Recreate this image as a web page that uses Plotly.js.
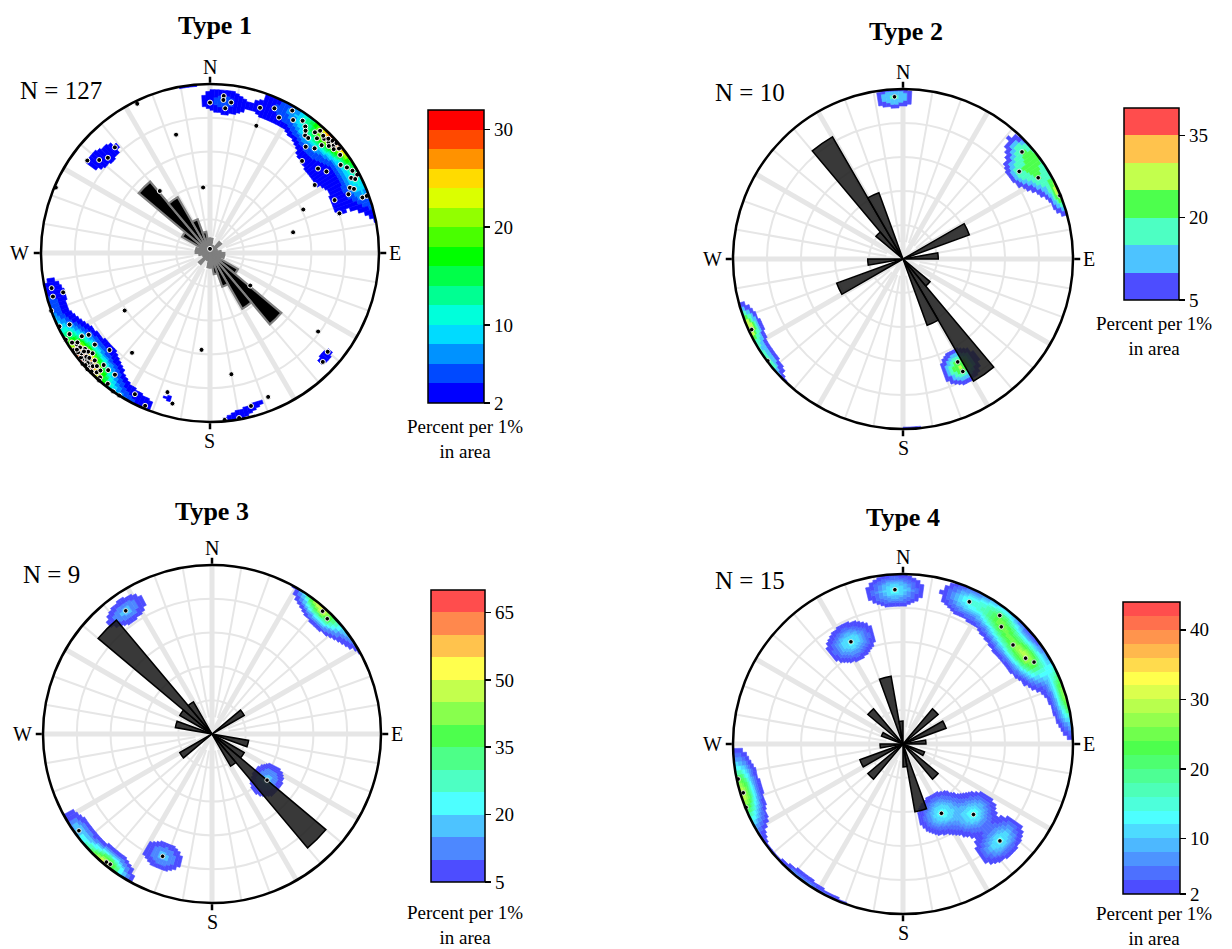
<!DOCTYPE html>
<html><head><meta charset="utf-8">
<script src="https://cdn.plot.ly/plotly-3.0.1.min.js"></script>
<style>body{margin:0;background:#fff}#chart{width:1232px;height:949px}</style>
</head><body><div id="chart"></div>
<script>
// ================= DATA =================
const panelTitles = ['Type 1', 'Type 2', 'Type 3', 'Type 4'];
const poleCounts = [127, 10, 9, 15];
const cardinalAngles = [0, 90, 180, 270];
const cardinalLabels = ['N', 'E', 'S', 'W'];
const colorbarTitle = 'Percent per 1%<br>in area';

// rose diagram: strike bins (centre, deg), bidirectional
const roseBins = [5, 15, 25, 35, 45, 55, 65, 75, 85, 95, 105, 115, 125, 135, 145, 155, 165, 175];
const rose1 = [4, 2, 2, 2, 4, 2, 1, 2, 3, 4, 4, 3, 9, 26, 18, 10, 6, 4];
const rose2 = [0, 0, 0, 0, 0, 0, 2, 0, 1, 0, 0, 0, 0, 1, 4, 2, 0, 0];
const rose3 = [0, 0, 0, 0, 0, 1, 0, 0, 0, 0, 1, 0, 1, 4, 1, 0, 0, 0];
const rose4 = [0, 0, 0, 0, 2, 0, 2, 0, 1, 0, 0, 1, 0, 2, 0, 0, 3, 1];

// poles (trend, plunge in degrees), lower hemisphere
const poleTrend1 = [5, 8, 0, 6, 5,
  334, 19, 20, 344, 354, 321, 293, 57, 65, 73, 76, 0, 129, 255, 236, 218, 185, 126, 130, 134, 170, 197, 194, 158, 165, 175, 170,
  318, 313, 310, 307,
  24, 30, 32, 37, 39, 40.5, 42, 45, 47, 47.5, 49, 49, 51, 45, 42, 52, 55, 56, 60, 62, 65, 67, 66, 70, 70, 67, 27, 45,
  44, 46, 48, 43, 50, 46, 53, 41, 58, 38, 35, 62, 63,
  250, 244, 243, 239, 240, 237, 236, 235.5, 234.5, 234, 232.5, 231.5, 229.5, 230, 229, 229, 227, 227, 227, 226.5, 225, 223.5, 223, 223.5, 221, 226, 218, 221.5, 221, 218, 215, 212.5, 208, 203, 254.5, 257.5,
  231, 232, 230, 233, 228, 229, 231, 234, 236, 226, 225, 228, 232, 237];
const polePlunge1 = [7.5, 11, 12, 15, 10,
  2, 10, 21, 28, 58, 51, 1, 27, 39, 21, 48, 88, 65, 11, 39, 26, 42, 22, 10, 8, 28, 15, 9, 9, 7, 1, 1,
  17, 18.5, 15.5, 10,
  7, 3, 8, 7, 11.5, 11.5, 3, 5, 4.5, 2, 3.5, 1, 2, 13.5, 16.5, 20, 17, 7.5, 3, 1.5, 9.5, 12, 7.5, 4.5, 1.5, 21, 11, 24,
  4, 3, 6, 8, 5, 9, 4, 6, 5, 9, 5, 6, 4,
  0, 1, 7.5, 0.5, 4.5, 10.5, 14.5, 5, 1, 5.5, 7.5, 14, 9.5, 3, 4, 0, 4, 7.5, 1.5, 0, 1, 3, 5.5, 9.5, 9, 18.5, 9.5, 2, 0, 2, 0, 0, 6, 2, 4, 4.5,
  2, 4, 5, 2.5, 3, 6, 8, 3, 6, 4, 6, 1, 6, 3];

const poleTrend2 = [357, 48, 53, 59, 68, 245, 233, 152, 152];
const polePlunge2 = [5, 6.5, 15.5, 8, 0.5, 2, 0.5, 32, 26];

const poleTrend3 = [325, 42, 45, 130, 234, 219.5, 218, 202];
const polePlunge3 = [12, 2.5, 4, 55, 3, 2, 2.5, 23];

const poleTrend4 = [357, 333, 25, 37, 40, 48, 55, 58, 151, 135, 135, 248, 253, 258];
const polePlunge4 = [10, 33, 8.5, 6, 11, 14, 13, 10, 51.5, 41, 20.5, 0.5, 2, 1];

// density colour scales (percent per 1% area)
const cbMin = [2, 5, 5, 2];
const cbStep = [2, 5, 5, 2];
const cbBands = [15, 7, 13, 21];
const cbTicks1 = [2, 10, 20, 30];
const cbTicks2 = [5, 20, 35];
const cbTicks3 = [5, 20, 35, 50, 65];
const cbTicks4 = [2, 10, 20, 30, 40];

// ================= STYLE / LAYOUT =================
const W = 1232, H = 949;
const SERIF = 'Liberation Serif, Times New Roman, serif';
const centers = [[210, 253, 169], [903, 259, 170], [212, 734, 169], [903, 744, 170]]; // px: cx, cy, R
const cbBox = [[428, 110, 56, 293], [1124, 108, 55, 192], [431, 590, 54, 292], [1123, 602, 57, 292]]; // left, top, thick, len
const roseUnit = [0.0212, 0.2075, 0.22, 0.135];
const kernelK = [140, 170, 130, 110];
const kernelC = [1.6, 1.6, 1.5, 1.9];
const softColors = [false, true, true, true];
const titlePos = [[215, 25], [906, 31], [212, 511], [903, 517]];
const nPos = [[18, 91], [713, 92], [21, 574], [713, 580]];
const cbTitlePos = [[465, 439], [1154, 336], [465, 925], [1154, 926]];
const cardOffset = [17, 16, 19, 21]; // N, E, S, W distance beyond circle (px)

const D = Math.PI / 180;
const trendSets = [poleTrend1, poleTrend2, poleTrend3, poleTrend4];
const plungeSets = [polePlunge1, polePlunge2, polePlunge3, polePlunge4];
const roseSets = [rose1, rose2, rose3, rose4];
const tickSets = [cbTicks1, cbTicks2, cbTicks3, cbTicks4];

function project(pl) { return Math.SQRT2 * Math.sin((90 - pl) * D / 2); }

function hueRGB(h) {
  const x = 1 - Math.abs((h / 60) % 2 - 1);
  if (h < 60) return [1, x, 0];
  if (h < 120) return [x, 1, 0];
  if (h < 180) return [0, 1, x];
  if (h < 240) return [0, x, 1];
  return [x, 0, 1];
}
function bandColors(nb, soft) {
  const out = [];
  const m = soft ? 0.3 : 0;
  for (let i = 0; i < nb; i++) {
    const c = hueRGB(240 - 240 * i / (nb - 1)).map(v => Math.round((v * (1 - m) + m) * 255));
    out.push('rgb(' + c.join(',') + ')');
  }
  return out;
}
function stepScale(cols) {
  const s = [], nb = cols.length;
  cols.forEach((c, i) => { s.push([i / nb, c]); s.push([(i + 1) / nb, c]); });
  return s;
}

function densityBars(p) {
  const trend = trendSets[p], plunge = plungeSets[p];
  const vecs = trend.map((t, i) => {
    const tr = t * D, pl = plunge[i] * D;
    return [Math.cos(pl) * Math.sin(tr), Math.cos(pl) * Math.cos(tr), Math.sin(pl)];
  });
  const NR = 90, dth = 1.5, NT = Math.round(360 / dth);
  const scale = kernelC[p] * 100 / poleCounts[p];
  const vmin = cbMin[p], step = cbStep[p], nb = cbBands[p], k = kernelK[p];
  const th = [], base = [], len = [], val = [];
  for (let j = 0; j < NT; j++) {
    const t = (j + 0.5) * dth * D, st = Math.sin(t), ct = Math.cos(t);
    let cur = -1, start = 0;
    for (let i = 0; i <= NR; i++) {
      let lev = -1;
      if (i < NR) {
        const r = (i + 0.5) / NR;
        const phi = 2 * Math.asin(r / Math.SQRT2);
        const sp = Math.sin(phi), cp = Math.cos(phi);
        const u0 = sp * st, u1 = sp * ct, u2 = cp;
        let s = 0;
        for (const v of vecs) {
          const d = Math.abs(u0 * v[0] + u1 * v[1] + u2 * v[2]);
          s += Math.exp(k * (d - 1));
        }
        const dens = s * scale;
        lev = Math.floor((dens - vmin) / step);
        if (lev < 0) lev = -1;
        if (lev > nb - 1) lev = nb - 1;
      }
      if (lev !== cur) {
        if (cur >= 0) {
          th.push((j + 0.5) * dth); base.push(start / NR); len.push((i - start) / NR);
          val.push(vmin + (cur + 0.5) * step);
        }
        cur = lev; start = i;
      }
    }
  }
  return { th, base, len, val, dth };
}

const traces = [];
const layout = {
  width: W, height: H, margin: { l: 0, r: 0, t: 0, b: 0 },
  paper_bgcolor: '#fff', showlegend: false, annotations: [],
  font: { family: SERIF, color: '#000' }
};
function ann(x, y, text, size, xa) {
  layout.annotations.push({
    xref: 'paper', yref: 'paper', x: x / W, y: 1 - y / H, xanchor: xa || 'center', yanchor: 'middle',
    showarrow: false, text: text, font: { family: SERIF, size: size, color: '#000' }
  });
}

for (let p = 0; p < 4; p++) {
  const spBase = p === 0 ? 'polar' : 'polar' + (p + 1);   // grid (drawn first)
  const sp = 'polar' + (p + 5);                           // data on top
  const [cx, cy, R] = centers[p];
  const dom = { x: [(cx - R) / W, (cx + R) / W], y: [1 - (cy + R) / H, 1 - (cy - R) / H] };
  layout[spBase] = {
    domain: dom, bgcolor: '#fff',
    angularaxis: { rotation: 90, direction: 'clockwise', showgrid: false, showline: false,
      showticklabels: false, ticks: '' },
    radialaxis: { range: [0, 1], showline: false, showticklabels: false, ticks: '',
      tickmode: 'array', tickvals: [0.2, 0.4, 0.6, 0.8], gridcolor: '#e6e6e6', gridwidth: 2 }
  };
  layout[sp] = {
    domain: dom, bgcolor: 'rgba(0,0,0,0)', barmode: 'overlay',
    angularaxis: {
      rotation: 90, direction: 'clockwise', tickmode: 'array',
      tickvals: cardinalAngles, ticktext: cardinalLabels, showticklabels: false,
      showgrid: false, showline: true, linecolor: '#000', linewidth: 2.5,
      ticks: 'outside', ticklen: 6, tickwidth: 2.5, tickcolor: '#000'
    },
    radialaxis: { range: [0, 1], showline: false, showticklabels: false, ticks: '', showgrid: false }
  };
  // grid spokes (under everything)
  const thinR = [], thinT = [], thickR = [], thickT = [];
  for (let a = 0; a < 360; a += 10) {
    if (a % 30 === 0) { thickR.push(0, 1, null); thickT.push(a, a, null); }
    else { thinR.push(0.1, 1, null); thinT.push(a, a, null); }
  }
  traces.push({ type: 'scatterpolar', subplot: spBase, mode: 'lines', r: thinR, theta: thinT,
    line: { color: '#e6e6e6', width: 2 }, hoverinfo: 'skip' });
  traces.push({ type: 'scatterpolar', subplot: spBase, mode: 'lines', r: thickR, theta: thickT,
    line: { color: '#e6e6e6', width: 5 }, hoverinfo: 'skip' });

  // density
  const cols = bandColors(cbBands[p], softColors[p]);
  const scl = stepScale(cols);
  const cmin = cbMin[p], cmax = cbMin[p] + cbBands[p] * cbStep[p];
  const db = densityBars(p);
  const [bx, by, bth, blen] = cbBox[p];
  traces.push({
    type: 'barpolar', subplot: sp, theta: db.th, base: db.base, r: db.len, width: db.dth,
    hoverinfo: 'skip',
    marker: {
      color: db.val, colorscale: scl, cmin: cmin, cmax: cmax, showscale: true,
      line: { color: db.val, colorscale: scl, cmin: cmin, cmax: cmax, width: 0.6 },
      colorbar: {
        x: bx / W, xanchor: 'left', y: 1 - (by + blen / 2) / H, yanchor: 'middle',
        len: blen, lenmode: 'pixels', thickness: bth, thicknessmode: 'pixels',
        xpad: 0, ypad: 0, outlinewidth: 1.5, outlinecolor: '#000', borderwidth: 0,
        tickmode: 'array', tickvals: tickSets[p], ticks: 'outside', ticklen: 6, tickwidth: 1.5,
        tickcolor: '#000', tickfont: { family: SERIF, size: 19, color: '#000' }
      }
    }
  });

  // rose
  const rt = [], rr = [];
  roseSets[p].forEach((c, i) => {
    if (c > 0) {
      rt.push(roseBins[i], roseBins[i] + 180);
      rr.push(c * roseUnit[p], c * roseUnit[p]);
    }
  });
  traces.push({
    type: 'barpolar', subplot: sp, theta: rt, r: rr, width: 10, hoverinfo: 'skip',
    marker: p === 0 ? { color: '#000', line: { color: '#7f7f7f', width: 2.2 } }
                    : { color: 'rgba(30,30,30,0.88)', line: { color: '#000', width: 1.5 } }
  });

  // poles
  traces.push({
    type: 'scatterpolar', subplot: sp, mode: 'markers',
    theta: trendSets[p], r: plungeSets[p].map(project), hoverinfo: 'skip',
    marker: p === 0 ? { color: '#000', size: 5, line: { color: '#fff', width: 1 } }
                    : { color: '#000', size: 4.5, line: { color: '#fff', width: 0.8 } }
  });

  // text
  ann(titlePos[p][0], titlePos[p][1], '<b>' + panelTitles[p] + '</b>', 26);
  ann(nPos[p][0], nPos[p][1], 'N = ' + poleCounts[p], 25, 'left');
  ann(cbTitlePos[p][0], cbTitlePos[p][1], colorbarTitle, 19);
  ann(cx, cy - R - cardOffset[0], cardinalLabels[0], 20);
  ann(cx + R + cardOffset[1], cy, cardinalLabels[1], 20);
  ann(cx, cy + R + cardOffset[2], cardinalLabels[2], 20);
  ann(cx - R - cardOffset[3], cy, cardinalLabels[3], 20);
}

Plotly.newPlot('chart', traces, layout, { staticPlot: true, displayModeBar: false });
</script>
</body></html>
